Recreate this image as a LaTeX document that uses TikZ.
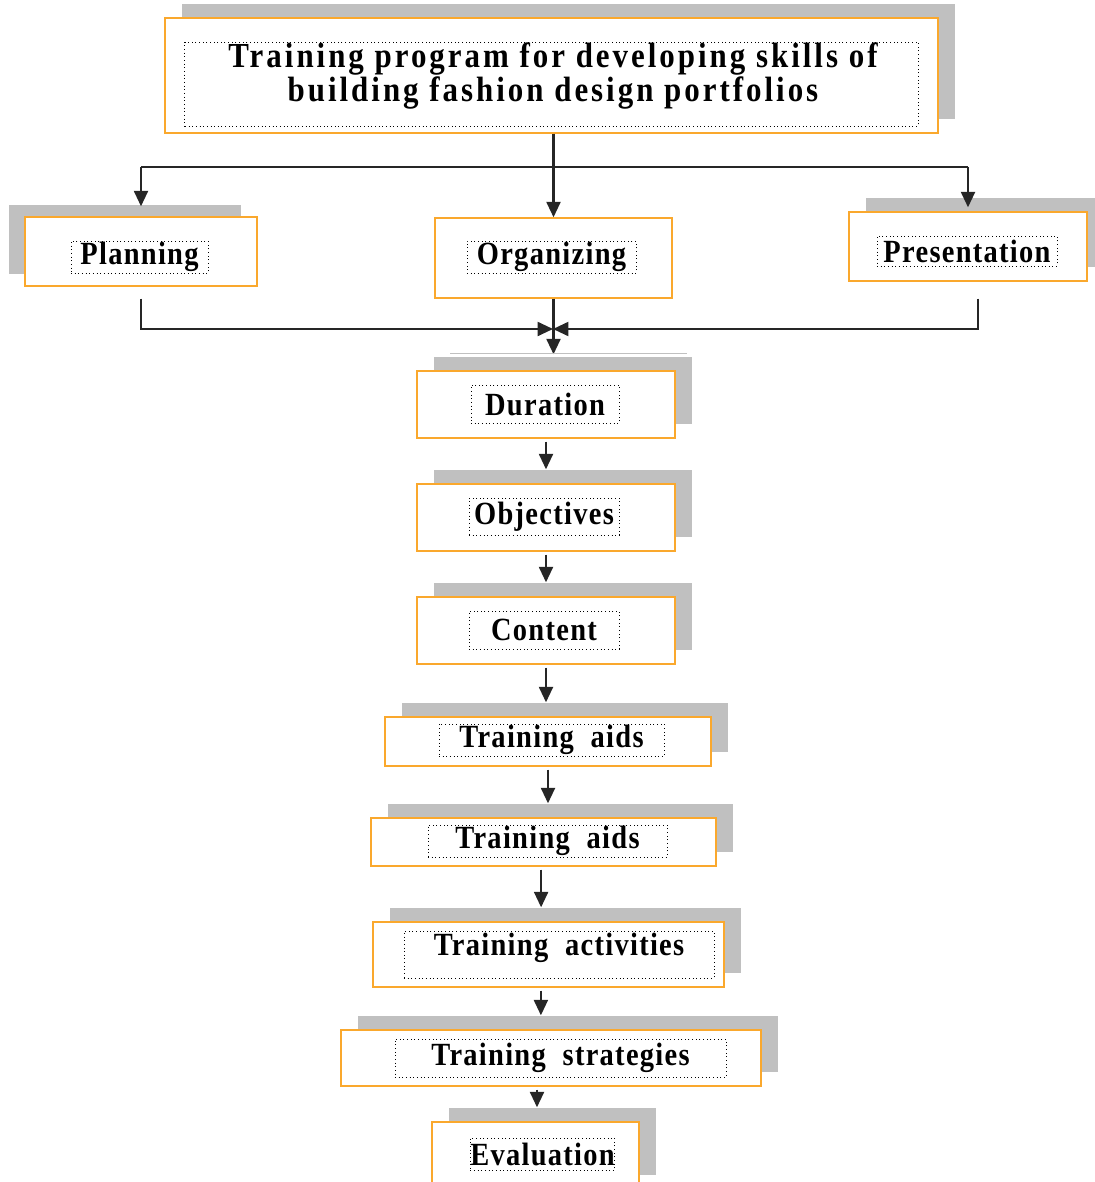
\documentclass[tikz,border=0pt]{standalone}
\usepackage{fontspec}
\usepackage{tikz}
\usetikzlibrary{positioning,arrows.meta,shadows}
\setmainfont{Liberation Serif}
\newfontfamily\boxfont[LetterSpace=4,FakeStretch=0.88]{Liberation Serif}
\newfontfamily\headfont[LetterSpace=8.5,FakeStretch=0.88]{Liberation Serif}
\definecolor{boxorange}{RGB}{250,168,45}
\definecolor{shadegray}{RGB}{192,192,192}
\tikzset{
	->,
	>={Triangle[length=11pt,width=10pt]},
	flow/.style={line width=1.5pt, black!85},
	stage/.style={draw=boxorange, line width=1pt, fill=white, inner sep=0pt},
	shade right/.style={general shadow={fill=shadegray, draw=none, shadow xshift=0.425cm, shadow yshift=0.35cm}},
	shade left/.style={general shadow={fill=shadegray, draw=none, shadow xshift=-0.4cm, shadow yshift=0.3cm}},
	tag/.style={draw, dotted, line width=0.6pt, inner sep=0pt, font=\boxfont\bfseries\fontsize{23}{24}\selectfont},
}

\begin{document}
\begin{tikzpicture}[
            x=0.025cm, y=-0.025cm
        ]
        \useasboundingbox (0,0) rectangle (1095,1182);

        % title
        \node[stage, shade right, minimum width=19.325cm, minimum height=2.875cm] (program) at (551.5,75.5) {};
        \node[draw, dotted, line width=0.6pt, minimum width=18.325cm, minimum height=2.1cm] (programframe) at (551.5,84) {};
        \node[align=center, font=\headfont\bfseries\fontsize{25}{23.5}\selectfont] (programtext) at (553,76) {Training program for developing skills of\\building fashion design portfolios};

        % three branches
        \node[stage, shade left, minimum width=5.8cm, minimum height=1.725cm] (planning) at (141,251.5) {};
        \node[tag, minimum width=3.425cm, minimum height=0.8cm] (planningtext) at (139.5,257) {Planning};
        \node[stage, minimum width=5.925cm, minimum height=2cm] (organizing) at (553.5,258) {};
        \node[tag, minimum width=4.225cm, minimum height=0.8cm] (organizingtext) at (551.5,257) {Organizing};
        \node[stage, shade right, minimum width=5.95cm, minimum height=1.725cm] (presentation) at (968,246.5) {};
        \node[tag, minimum width=4.5cm, minimum height=0.75cm] (presentationtext) at (967,251) {Presentation};

        % program stages
        \node[stage, shade right, minimum width=6.45cm, minimum height=1.675cm] (duration) at (546,404.5) {};
        \node[tag, minimum width=3.7cm, minimum height=0.95cm] (durationtext) at (545,404) {Duration};
        \node[stage, shade right, minimum width=6.45cm, minimum height=1.675cm] (objectives) at (546,517.5) {};
        \node[tag, minimum width=3.75cm, minimum height=0.925cm] (objectivestext) at (544,516.5) {Objectives};
        \node[stage, shade right, minimum width=6.45cm, minimum height=1.675cm] (content) at (546,630.5) {};
        \node[tag, minimum width=3.75cm, minimum height=0.95cm] (contenttext) at (544,630) {Content};
        \node[stage, shade right, minimum width=8.15cm, minimum height=1.225cm] (aidsone) at (548,741.5) {};
        \node[tag, minimum width=5.625cm, minimum height=0.8cm] (aidsonetext) at (551.5,740) {Training\ \ aids};
        \node[stage, shade right, minimum width=8.625cm, minimum height=1.2cm] (aidstwo) at (543.5,842) {};
        \node[tag, minimum width=5.975cm, minimum height=0.8cm] (aidstwotext) at (547.5,841) {Training\ \ aids};
        \node[stage, shade right, minimum width=8.775cm, minimum height=1.625cm] (activities) at (548.5,954.5) {};
        \node[tag, minimum width=7.75cm, minimum height=1.175cm, text height=10pt, text depth=8pt] (activitiestext) at (559,954.5) {Training\ \ activities};
        \node[stage, shade right, minimum width=10.5cm, minimum height=1.4cm] (strategies) at (551,1058) {};
        \node[tag, minimum width=8.275cm, minimum height=0.95cm] (strategiestext) at (560.5,1058) {Training\ \ strategies};
        \node[stage, shade right, minimum width=5.175cm, minimum height=1.675cm] (evaluation) at (535.5,1155.5) {};
        \node[tag, minimum width=3.325cm, minimum height=0.8cm] (evaluationtext) at (542.5,1154) {Evaluation};

        % fork from the title
        \coordinate (fork) at (553,167);
        \coordinate (merge) at (553,329);
        \draw[flow] (program.south -| organizing) -- (organizing);
        \draw[flow, -] (planning.north |- fork) -- (presentation.north |- fork);
        \draw[flow] (planning.north |- fork) -- ([yshift=0.25cm]planning.north);
        \draw[flow] (presentation.north |- fork) -- ([yshift=0.1cm]presentation.north);

        % join into the stages
        \draw[flow] ([yshift=-0.3cm]planning.south) |- (merge);
        \draw[flow] ([xshift=0.25cm,yshift=-0.425cm]presentation.south) |- (merge);
        \draw[flow] (organizing) -- ([yshift=0.4cm]organizing.south |- duration.north);
        \draw[-, shadegray, line width=0.5pt] (450,353) -- (687,353);

        \foreach \from/\to/\dx in {duration/objectives/0cm, objectives/content/0cm, content/aidsone/0cm,
                aidsone/aidstwo/0cm, aidstwo/activities/-0.06cm, activities/strategies/-0.19cm,
                strategies/evaluation/-0.35cm}
            \draw[flow] ([xshift=\dx,yshift=-0.075cm]\from.south) -- ([xshift=\dx,yshift=0.35cm]\from.south |- \to.north);
    \end{tikzpicture}
\end{document}
